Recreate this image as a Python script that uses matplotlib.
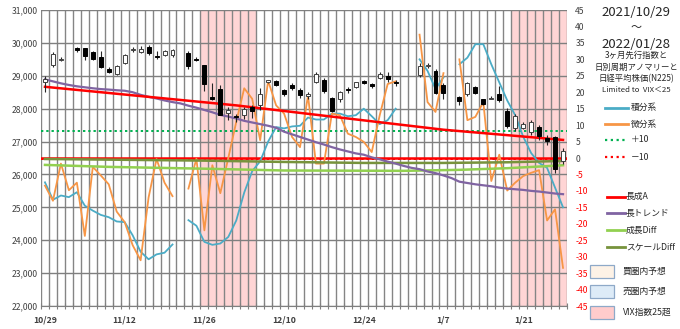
import matplotlib.pyplot as plt
from matplotlib.lines import Line2D
from matplotlib.patches import Rectangle
import numpy as np
import pandas as pd

plt.rcParams['font.family'] = ['Noto Sans CJK JP', 'DejaVu Sans']

nan = np.nan

# category axis: every weekday from 10/29 to 1/28
days = pd.bdate_range('2021-10-29', '2022-01-28')
day_labels = [f'{d.month}/{d.day}' for d in days]
tick_days = ['10/29', '11/12', '11/26', '12/10', '12/24', '1/7', '1/21']
vix_days = ['11/26', '11/29', '11/30', '12/1', '12/2', '12/3', '12/6',
            '1/20', '1/21', '1/24', '1/25', '1/26', '1/27', '1/28']

# N225 candles (nan = market closed)
n225_open = [28820, 29330, 29480, nan, 29850, 29835, 29730, 29560, 29220, 29050,
             29380, 29790, 29720, 29880, 29600, 29640, 29620, nan, 29680, 29500,
             29330, 28360, 28610, 27860, 27770, 27810, 28050, 28110, 28810, 28850,
             28560, 28720, 28560, 28370, 28820, 28870, 28310, 28290, 28600, 28670,
             28850, 28760, 28920, 28990, 28820, nan, nan, 29030, 29290, 29140,
             28710, nan, 28360, 28450, 28650, 28280, 28300, 28440, 27930, 27400,
             27400, 27280, 27450, 27120, 27140, 26400]
n225_high = [28990, 29730, 29560, nan, 29880, 29840, 29760, 29760, 29280, 29330,
             29650, 29880, 29910, 29930, 29740, 29770, 29820, nan, 29760, 29560,
             29340, 28790, 28720, 28060, 27850, 28060, 28100, 28620, 28880, 28870,
             28600, 28780, 28620, 28500, 29100, 28930, 28360, 28550, 28650, 28820,
             28870, 28780, 29120, 29100, 28880, nan, nan, 29390, 29390, 29200,
             28780, nan, 28400, 28800, 28700, 28300, 28390, 28690, 28030, 27830,
             27590, 27650, 27500, 27200, 27180, 26800]
n225_low = [28510, 29280, 29460, nan, 29710, 29490, 29480, 29230, 29090, 29030,
            29360, 29730, 29690, 29640, 29500, 29600, 29560, nan, 29210, 29440,
            28550, 28270, 27800, 27650, 27600, 27700, 27720, 27960, 28780, 28700,
            28400, 28560, 28330, 28300, 28780, 28480, 27890, 28200, 28480, 28620,
            28760, 28640, 28890, 28800, 28700, nan, nan, 28950, 29230, 28450,
            28300, nan, 28100, 28400, 28440, 28100, 28280, 28200, 27400, 27330,
            27370, 27200, 27050, 26900, 26040, 26330]
n225_close = [28900, 29650, 29520, nan, 29790, 29610, 29510, 29260, 29120, 29290,
              29620, 29820, 29810, 29690, 29580, 29750, 29770, nan, 29300, 29490,
              28750, 28280, 27820, 27950, 27750, 28000, 27930, 28460, 28860, 28730,
              28440, 28640, 28430, 28460, 29066, 28545, 27940, 28517, 28560, 28798,
              28783, 28676, 29069, 28906, 28791, nan, nan, 29301, 29332, 28488,
              28479, nan, 28222, 28766, 28489, 28150, 28333, 28257, 27467, 27773,
              27522, 27588, 27180, 27011, 26170, 26717]

# 積分系 / 微分系 (right scale)
sekibun = [-7.4, -12.7, -11.4, -11.9, -10.4, -14.5, -16, -17.3, -18, -19.3,
           -19.5, -23.5, -28.5, -30.8, -29.3, -28.8, -26.3, nan, -18.9, -20.6,
           -25.5, -26.4, -26, -24, -19, -10.5, -4, -1, 5, 9.4,
           9, 9.6, 9.8, 12.3, 11.7, 11.7, 13.5, 13.5, 12.7, 13,
           15, 12.7, 10.3, 11.5, 15, nan, nan, 30, 26.5, 21,
           24.5, nan, 28.5, 30.5, 34.6, 34.6, 28.5, 23, 17.5, 13,
           6.5, 1.5, -1.5, -3, -9, -15]
bibun = [-8.4, -13, -1.7, -9.8, -7.5, -23.7, -2.7, -5.3, -8, -16.3,
         -19.5, -26.5, -31.1, -12, -0.3, -7.5, -11.6, nan, -9.3, -0.2,
         -22, -2.2, -10.7, 0, 11, 21.2, 18, 5.4, 23.5, 16,
         13.5, 6.4, 3.3, 19, -1.7, -1.7, 13.5, 13, 7.4, 6.4,
         4.9, 1.8, 13, 22.5, 23.3, nan, nan, 37.5, 17, 14,
         25.8, nan, 30, 11.5, 12.5, 17, -7, 1, -9.9, -7.5,
         -5.5, -4.5, -3.7, -19, -15.6, -33.4]
plus_level = 8.2
minus_level = -0.3

# 長トレンド (price scale)
long_trend = [28890, 28830, 28770, 28720, 28680, 28650, 28620, 28595, 28580, 28560,
              28545, 28500, 28420, 28360, 28310, 28250, 28200, 28160, 28090, 28030,
              27960, 27890, 27810, 27760, 27700, 27630, 27580, 27530, 27480, 27420,
              27300, 27220, 27140, 27060, 26980, 26910, 26830, 26760, 26700, 26640,
              26600, 26520, 26460, 26390, 26330, 26260, 26200, 26160, 26090, 26040,
              25970, 25890, 25780, 25740, 25700, 25670, 25640, 25600, 25570, 25550,
              25530, 25500, 25480, 25450, 25420, 25400]
# 長成A, 成長Diff, スケールDiff
choseiA_day = [0, 24, 50, 65]
choseiA = [28665, 28100, 27360, 27050]
seicho_day = [0, 8, 21, 30, 45, 52, 58, 62, 65]
seicho_diff = [26290, 26230, 26170, 26120, 26110, 26140, 26190, 26240, 26280]
scale_day = [0, 20, 30, 40, 50, 58, 65]
scale_diff = [26470, 26420, 26380, 26350, 26350, 26370, 26410]

C_BLUE = '#4bacc6'
C_ORANGE = '#f79646'
C_RED = '#ff0000'
C_PURPLE = '#8064a2'
C_LGREEN = '#92d050'
C_OLIVE = '#77933c'
C_DOT_GREEN = '#00b050'
C_PINK = '#ffd5d5'
GRID = '#858585'

W, H = 680, 329
fig = plt.figure(figsize=(W / 100, H / 100), dpi=100)
ax = fig.add_axes([41 / W, 23 / H, 526 / W, 296 / H])
ax2 = ax.twinx()
ax.set_zorder(2)
ax2.set_zorder(1)
ax.patch.set_visible(False)

x = np.arange(len(days))
ax.set_xlim(-0.5, len(days) - 0.5)
ax.set_ylim(22000, 31000)
ax2.set_ylim(-45, 45)

# VIX>25 background and grid (bottom layer)
for d in vix_days:
    i = day_labels.index(d)
    ax2.axvspan(i - 0.5, i + 0.5, color=C_PINK, lw=0, zorder=0)
for k in range(len(days) + 1):
    ax2.axvline(k - 0.5, color=GRID, lw=1.0, zorder=1)
for v in range(-45, 46, 10):
    ax2.axhline(v, color='#7f7f7f', lw=1.0, zorder=1)

ax2.axhline(0, color=C_RED, lw=1.8, zorder=2)
ax2.axhline(minus_level, color=C_RED, lw=1.4, ls=(0, (1.2, 1.5)), zorder=2)
ax2.axhline(plus_level, color=C_DOT_GREEN, lw=1.4, ls=(0, (1.2, 1.5)), zorder=2)
ax2.plot(x, sekibun, color=C_BLUE, lw=1.3, zorder=3)
ax2.plot(x, bibun, color=C_ORANGE, lw=1.3, zorder=3)

# trend lines on price scale
ax.plot(scale_day, scale_diff, color=C_OLIVE, lw=1.8, zorder=2)
ax.plot(seicho_day, seicho_diff, color=C_LGREEN, lw=1.8, zorder=2)
ax.plot(x, long_trend, color=C_PURPLE, lw=1.6, zorder=2)
ax.plot(choseiA_day, choseiA, color=C_RED, lw=1.8, zorder=2)

# candles
o = np.array(n225_open, float)
hi = np.array(n225_high, float)
lo = np.array(n225_low, float)
c = np.array(n225_close, float)
ok = ~np.isnan(o)
ax.vlines(x[ok], lo[ok], hi[ok], color='#262626', lw=0.8, zorder=3)
bottom = np.minimum(o, c)
height = np.maximum(np.abs(c - o), 25)
up = ok & (c >= o)
dn = ok & (c < o)
ax.bar(x[up], height[up], bottom=bottom[up], width=0.5, color='white',
       edgecolor='#404040', lw=0.7, zorder=4)
ax.bar(x[dn], height[dn], bottom=bottom[dn], width=0.5, color='black',
       edgecolor='black', lw=0.7, zorder=4)

# axes styling
for s in ax.spines.values():
    s.set_visible(False)
for s in ax2.spines.values():
    s.set_visible(False)
ax.spines['bottom'].set_visible(True)
ax.spines['bottom'].set_color('#7f7f7f')

ax.set_yticks(range(22000, 31001, 1000))
ax.set_yticklabels([f'{v:,}' for v in range(22000, 31001, 1000)])
ax.tick_params(axis='y', length=0, pad=2, labelsize=6.2, labelcolor='#404040')

ax.set_xticks([day_labels.index(d) for d in tick_days])
ax.set_xticklabels(tick_days, fontweight='bold')
ax.set_xticks(np.arange(len(days) + 1) - 0.5, minor=True)
ax.tick_params(axis='x', which='major', length=0, pad=7, labelsize=6.2,
               labelcolor='#404040')
ax.tick_params(axis='x', which='minor', direction='inout', length=4,
               color='#7f7f7f', width=0.8)

r_ticks = list(range(-45, 46, 5))
ax2.set_yticks(r_ticks)
ax2.set_yticklabels([str(v) for v in r_ticks])
ax2.tick_params(axis='y', length=0, pad=6, labelsize=6.2)
for lab, v in zip(ax2.get_yticklabels(), r_ticks):
    lab.set_color(C_RED if v < 0 else '#404040')


def fx(px):
    return px / W


def fy(py):
    return 1 - py / H


# period and description
fig.text(fx(636), fy(12), '2021/10/29', ha='center', va='center', fontsize=9.5,
         color='#262626')
fig.text(fx(636), fy(28), '～', ha='center', va='center', fontsize=8,
         color='#262626')
fig.text(fx(636), fy(44), '2022/01/28', ha='center', va='center', fontsize=9.5,
         color='#262626')
for py, s, fs in [(55, '3ヶ月先行指数と', 6.0), (67, '日別周期アノマリーと', 6.0),
                  (78.5, '日経平均株価(N225)', 6.0), (89.5, 'Limited to  VIX＜25', 5.6)]:
    fig.text(fx(636), fy(py), s, ha='center', va='center', fontsize=fs,
             color='#262626')


def legend_line(py, color, label, ls='-', lw=2.0, x0=605, x1=628, tx=631):
    fig.add_artist(Line2D([fx(x0), fx(x1)], [fy(py), fy(py)], color=color,
                          lw=lw, ls=ls, transform=fig.transFigure))
    fig.text(fx(tx), fy(py), label, ha='left', va='center', fontsize=6.3,
             color='#262626')


legend_line(107.5, C_BLUE, '積分系')
legend_line(124, C_ORANGE, '微分系')
legend_line(140, C_DOT_GREEN, '＋10', ls=(0, (1, 1.6)), lw=1.6)
legend_line(157, C_RED, '－10', ls=(0, (1, 1.6)), lw=1.6)
legend_line(196.5, C_RED, '長成A', x0=607, x1=625, tx=626)
legend_line(213, C_PURPLE, '長トレンド', x0=607, x1=625, tx=626)
legend_line(230, C_LGREEN, '成長Diff', x0=607, x1=625, tx=626)
legend_line(247, C_OLIVE, 'スケールDiff', x0=607, x1=625, tx=626)

for py, face, label in [(271.5, '#fdf2e6', '買圏内予想'), (291.5, '#ddebf7', '売圏内予想'),
                        (312, '#ffcccc', 'VIX指数25超')]:
    fig.add_artist(Rectangle((fx(590), fy(py + 6.5)), 24 / W, 13 / H,
                             facecolor=face, edgecolor='#8ea9c8', lw=0.9,
                             transform=fig.transFigure))
    fig.text(fx(623), fy(py), label, ha='left', va='center', fontsize=6.3,
             color='#262626')

fig.savefig('out.png', dpi=100)
